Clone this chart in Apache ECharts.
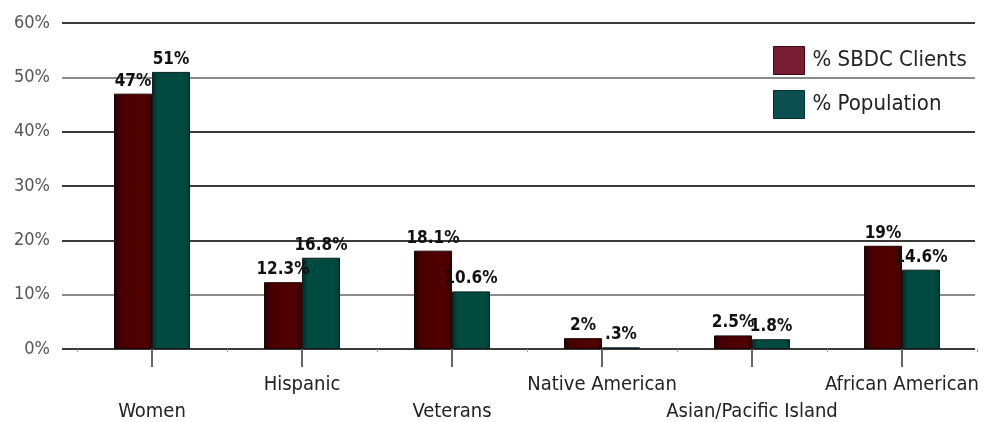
<!DOCTYPE html>
<html>
<head>
<meta charset="utf-8">
<title>SBDC Clients vs Population</title>
<script src="https://cdn.jsdelivr.net/npm/echarts@6/dist/echarts.min.js"></script>
<style>
  html, body { margin: 0; padding: 0; background: #ffffff; }
  #chart { width: 997px; height: 422px; }
</style>
</head>
<body>
<div id="chart"></div>
<script>
// Demographic groups and the two compared shares (percent)
const categories = ['Women', 'Hispanic', 'Veterans', 'Native American', 'Asian/Pacific Island', 'African American'];
const sbdcClients = [47, 12.3, 18.1, 2, 2.5, 19];
const population = [51, 16.8, 10.6, 0.3, 1.8, 14.6];
const seriesNames = ['% SBDC Clients', '% Population'];
const yTicks = { min: 0, max: 60, interval: 10 };

const NARROW = '"Liberation Sans Narrow", "DejaVu Sans Condensed", "Roboto", sans-serif';

// 0.3 -> ".3%", 12.3 -> "12.3%"
const pct = v => String(v).replace(/^0\./, '.') + '%';

const chart = echarts.init(document.getElementById('chart'), null, { renderer: 'canvas' });

const barLabel = {
  show: true,
  position: 'top',
  distance: 4,
  formatter: p => pct(p.value),
  fontFamily: NARROW,
  fontWeight: 'bold',
  fontSize: 17,
  color: '#111111'
};

chart.setOption({
  animation: false,
  backgroundColor: '#ffffff',
  grid: [
    // bars
    { left: 77, right: 20, top: 23, bottom: 73, outerBoundsMode: 'none', containLabel: false },
    // background rules with percent labels
    { left: 62, right: 22, top: 23, bottom: 73, outerBoundsMode: 'none', containLabel: false }
  ],
  legend: {
    orient: 'vertical',
    left: 768,
    top: 41,
    itemWidth: 31,
    itemHeight: 28,
    itemGap: 15,
    textStyle: { fontFamily: NARROW, fontSize: 22, color: '#222222', padding: [0, 0, 0, 3] },
    data: [
      { name: seriesNames[0], icon: 'rect', itemStyle: { color: '#7a1c34', borderColor: '#3a0a14', borderWidth: 1 } },
      { name: seriesNames[1], icon: 'rect', itemStyle: { color: '#0b4f4f', borderColor: '#03302f', borderWidth: 1 } }
    ]
  },
  xAxis: [
    {
      type: 'category',
      gridIndex: 0,
      data: categories,
      axisLine: { show: false },
      axisTick: { show: true, alignWithLabel: true, length: 18, lineStyle: { color: '#666666', width: 2 } },
      axisLabel: {
        interval: 0,
        margin: 22,
        fontFamily: NARROW,
        fontSize: 20,
        color: '#222222',
        lineHeight: 27,
        formatter: (v, i) => (i % 2 === 0 ? '\n' : '') + v
      }
    },
    {
      type: 'category',
      gridIndex: 0,
      position: 'bottom',
      data: categories,
      axisLine: { show: false },
      axisTick: { show: true, length: 3, lineStyle: { color: '#999999', width: 1 } },
      axisLabel: { show: false }
    },
    {
      type: 'value',
      gridIndex: 1,
      show: false
    }
  ],
  yAxis: [
    {
      type: 'value',
      gridIndex: 0,
      min: yTicks.min, max: yTicks.max, interval: yTicks.interval,
      axisLabel: { show: false },
      axisLine: { show: false },
      axisTick: { show: false },
      splitLine: { show: false }
    },
    {
      type: 'value',
      gridIndex: 1,
      min: yTicks.min, max: yTicks.max, interval: yTicks.interval,
      axisLine: { show: false },
      axisTick: { show: false },
      axisLabel: {
        margin: 12,
        fontFamily: NARROW,
        fontSize: 18,
        color: '#555555',
        formatter: v => v + '%'
      },
      splitLine: {
        show: true,
        lineStyle: {
          color: ['#3a3a3a', '#8c8c8c', '#3a3a3a', '#3a3a3a', '#3a3a3a', '#8c8c8c', '#3a3a3a'],
          width: 2
        }
      }
    }
  ],
  series: [
    {
      name: seriesNames[0],
      type: 'bar',
      xAxisIndex: 0,
      yAxisIndex: 0,
      data: sbdcClients,
      barWidth: 38,
      barGap: '0%',
      itemStyle: {
        color: new echarts.graphic.LinearGradient(0, 0, 1, 0, [
          { offset: 0, color: '#260000' },
          { offset: 0.2, color: '#480000' },
          { offset: 0.8, color: '#520000' },
          { offset: 1, color: '#360000' }
        ]),
        borderColor: '#1c0404',
        borderWidth: 1
      },
      label: barLabel
    },
    {
      name: seriesNames[1],
      type: 'bar',
      xAxisIndex: 0,
      yAxisIndex: 0,
      data: population,
      barWidth: 38,
      barGap: '0%',
      itemStyle: {
        color: new echarts.graphic.LinearGradient(0, 0, 1, 0, [
          { offset: 0, color: '#002c26' },
          { offset: 0.15, color: '#004a40' },
          { offset: 0.85, color: '#004a40' },
          { offset: 1, color: '#003a33' }
        ]),
        borderColor: '#0c1f1c',
        borderWidth: 1
      },
      label: barLabel
    }
  ]
});
</script>
</body>
</html>
